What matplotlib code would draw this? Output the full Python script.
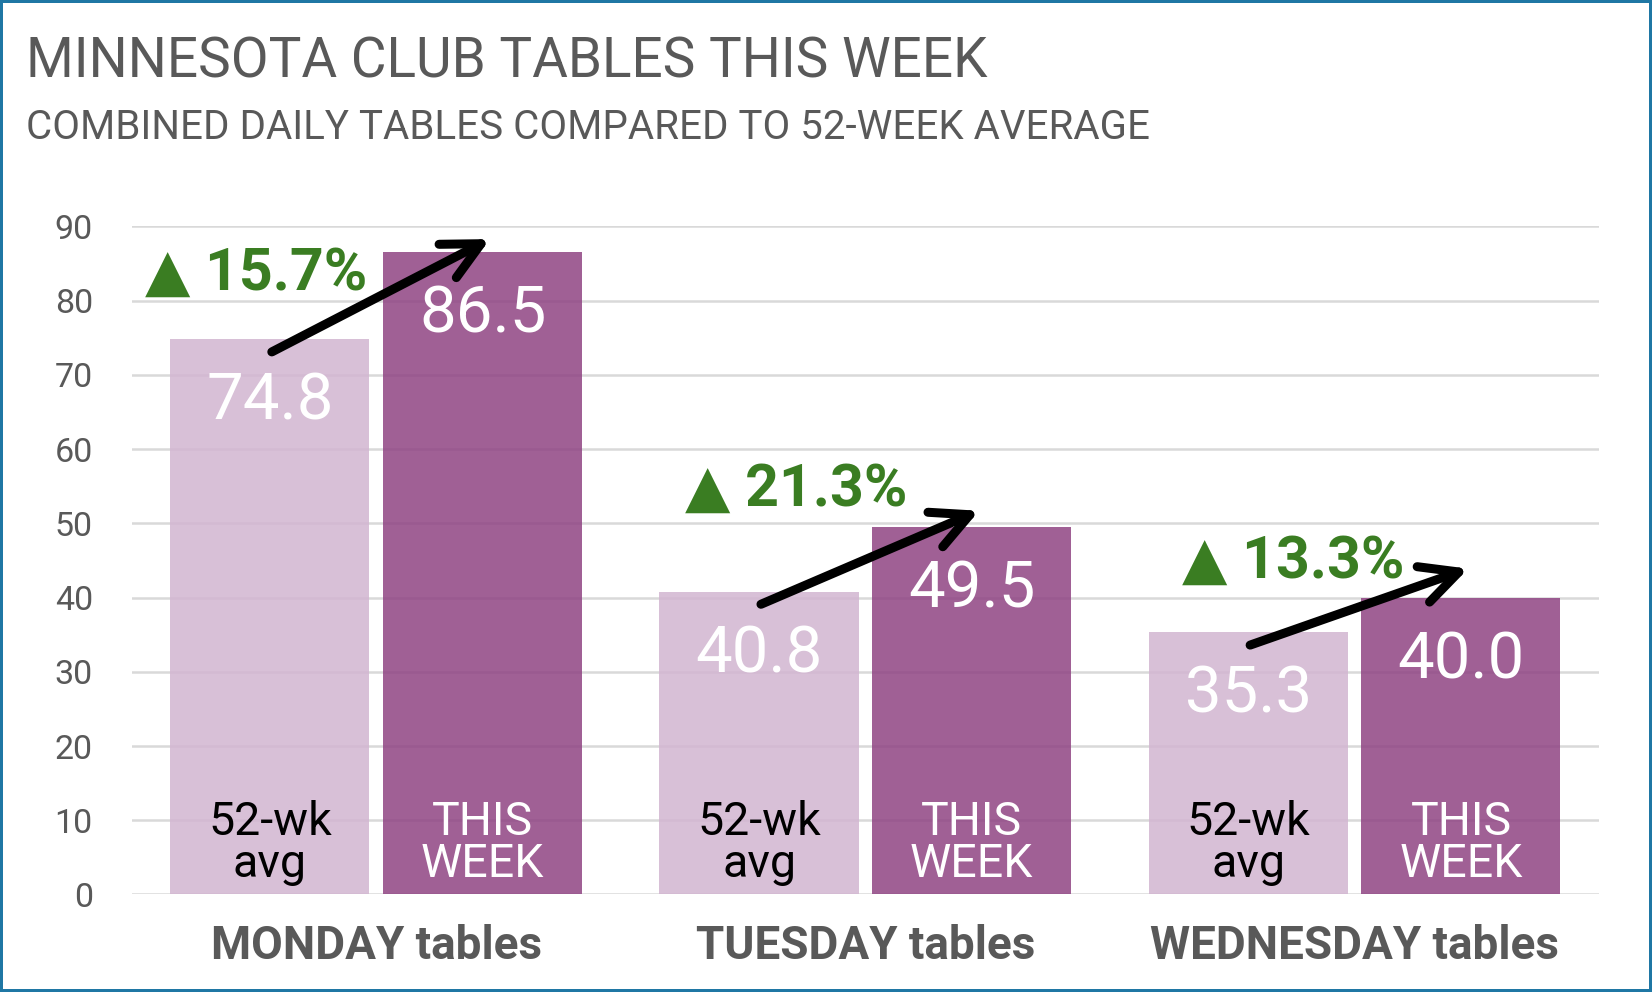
import numpy as np
import matplotlib.pyplot as plt
from matplotlib.patches import FancyArrowPatch

# --- data ---
days = ['MONDAY tables', 'TUESDAY tables', 'WEDNESDAY tables']
avg_52wk = [74.8, 40.8, 35.3]
this_week = [86.5, 49.5, 40.0]
pct_change = [15.7, 21.3, 13.3]
y_ticks = [0, 10, 20, 30, 40, 50, 60, 70, 80, 90]

# hand placed annotation spots (data coords)
pct_label_xy = [(-0.472, 81.5), (0.631, 52.4), (1.647, 42.7)]
arrow_tip_lift = [1.8, 2.2, 3.9]

FONT = ['Roboto', 'DejaVu Sans']
GREY = '#595959'
LIGHT = '#D2B5D1'
DARK = '#8F4483'
GREEN = '#3A7D22'

plt.rcParams['font.family'] = FONT

fig = plt.figure(figsize=(16.52, 9.92), dpi=100, facecolor='white')
fig.patch.set_edgecolor('#1F77A4')
fig.patch.set_linewidth(3)
ax = fig.add_axes([0.0797, 0.0983, 0.8883, 0.6734])

x = np.arange(len(days))
off = 0.2175
w = 0.407

ax.bar(x - off, avg_52wk, width=w, color=LIGHT, alpha=0.85, zorder=2)
ax.bar(x + off, this_week, width=w, color=DARK, alpha=0.85, zorder=2)

# value labels near the top of each bar
for i in range(len(days)):
    for xx, v in ((x[i] - off, avg_52wk[i]), (x[i] + off, this_week[i])):
        ax.annotate(f'{v:.1f}', (xx, v), xytext=(0, -45), textcoords='offset points',
                    ha='center', va='center', color='white', fontsize=47, zorder=4)
    # series names at the foot of the bars
    ax.text(x[i] - off, 6.9, '52-wk\navg', ha='center', va='center', color='black',
            fontsize=33.5, linespacing=0.93, zorder=4)
    ax.text(x[i] + off, 6.9, 'THIS\nWEEK', ha='center', va='center', color='white',
            fontsize=33.5, linespacing=0.93, zorder=4)
    # percent change callout
    px, py = pct_label_xy[i]
    ax.text(px, py, f'\u25B2 {pct_change[i]:.1f}%', ha='left', va='baseline',
            color=GREEN, fontsize=42.5, fontweight='bold', zorder=4)
    # arrow from the average bar up to this week's bar
    arr = FancyArrowPatch((x[i] - off + 0.004, avg_52wk[i] - 1.7),
                          (x[i] + off + 0.015, this_week[i] + arrow_tip_lift[i]),
                          arrowstyle='->,head_length=27,head_width=13.5',
                          mutation_scale=1, lw=6.5, color='black',
                          shrinkA=0, shrinkB=0, capstyle='round', joinstyle='round',
                          zorder=5, clip_on=False)
    ax.add_patch(arr)

ax.set_xlim(-0.5, 2.5)
ax.set_ylim(0, 90)
ax.set_yticks(y_ticks)
ax.set_xticks(x)
ax.set_xticklabels(days, fontsize=33, fontweight='bold', color=GREY)
ax.tick_params(axis='y', length=0, pad=28, labelsize=24.5, labelcolor=GREY)
ax.tick_params(axis='x', length=0, pad=21)
ax.grid(axis='y', color='#D9D9D9', linewidth=1.8, zorder=1)
ax.set_axisbelow(True)
for s in ax.spines.values():
    s.set_visible(False)

fig.text(0.016, 0.922, 'MINNESOTA CLUB TABLES THIS WEEK', ha='left', va='baseline',
         fontsize=39.5, color=GREY)
fig.text(0.016, 0.860, 'COMBINED DAILY TABLES COMPARED TO 52-WEEK AVERAGE', ha='left',
         va='baseline', fontsize=29, color=GREY)

fig.savefig('out.png', dpi=100, facecolor='white', edgecolor=fig.patch.get_edgecolor())
